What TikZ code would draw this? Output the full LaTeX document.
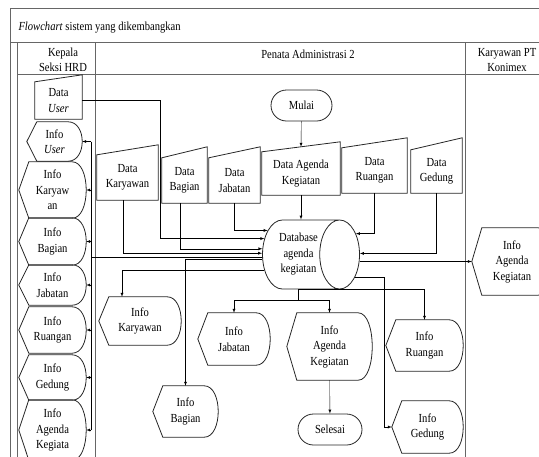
\documentclass[tikz,border=0pt]{standalone}
\usepackage{fontspec}
\setmainfont{Liberation Serif}[FakeStretch=0.86]
\usetikzlibrary{shapes.geometric,shapes.misc}

\begin{document}
\begin{tikzpicture}[x=1pt, y=-1pt, >=latex, font=\fontsize{12.3}{15.5}\selectfont]
\tikzset{garis/.style={draw=black!85, line width=0.8pt},
  tepi/.style={draw=black!60, line width=1pt},
  masukan/.style={align=center, inner sep=1pt,
    append after command={\pgfextra{\let\simpul\tikzlastnode
      \draw[garis] (\simpul.south west) -- (\simpul.north west)
        -- ([yshift=#1]\simpul.north east) -- (\simpul.south east) -- cycle;}}},
  masukan/.default=10pt,
  tampilan/.style={align=center, inner sep=1pt,
    append after command={\pgfextra{\let\simpul\tikzlastnode
      \draw[garis] (\simpul.west) -- ([xshift=10pt]\simpul.north west)
        -- ([xshift=-14pt]\simpul.north east)
        .. controls ([xshift=4.7pt]\simpul.north east) and ([xshift=4.7pt]\simpul.south east)
        .. ([xshift=-14pt]\simpul.south east)
        -- ([xshift=10pt]\simpul.south west) -- cycle;}}},
  terminal/.style={garis, rounded rectangle, inner sep=1pt},
  basisdata/.style={garis, cylinder, shape border rotate=0, aspect=0.9, align=center, inner sep=1pt}}
\useasboundingbox (0,0) rectangle (539,456);
\clip (0,0) rectangle (539,456);
% kerangka swimlane
\draw[tepi] (10,470) -- (10,8) -- (545,8);
\draw[tepi] (10,42) -- (545,42);
\draw[tepi] (17,42) -- (17,470);
\draw[tepi] (17,74) -- (545,74);
\draw[tepi] (95,42) -- (95,470);
\draw[tepi] (465,42) -- (465,470);
\node[anchor=west] (judul) at (15,28) {\textit{Flowchart} sistem yang dikembangkan};
\node[align=center] (hKepala) at (63,60) {Kepala\\Seksi HRD};
\node (hPenata) at (308,54) {Penata Administrasi 2};
\node[align=center] (hKaryawan) at (507,60) {Karyawan PT\\Konimex};
% Kepala Seksi HRD
\node[masukan=7pt, minimum width=47pt, minimum height=37pt] (dUser) at (58.5,100.5) {Data\\\textit{User}};
\node[tampilan, minimum width=55pt, minimum height=39pt] (iUser) at (54.5,141.5) {Info\\\textit{User}};
\node[tampilan, minimum width=67pt, minimum height=56pt] (iKaryawan) at (52.5,190) {Info\\Karyaw\\an};
\node[tampilan, minimum width=67pt, minimum height=47pt] (iBagian) at (52.5,241.5) {Info\\Bagian};
\node[tampilan, minimum width=67pt, minimum height=40pt] (iJabatan) at (52.5,285) {Info\\Jabatan};
\node[tampilan, minimum width=67pt, minimum height=46pt] (iRuangan) at (52.5,330) {Info\\Ruangan};
\node[tampilan, minimum width=67pt, minimum height=45pt] (iGedung) at (52.5,377.5) {Info\\Gedung};
\node[tampilan, minimum width=67pt, minimum height=60pt] (iAgenda) at (52.5,430) {Info\\Agenda\\Kegiata};
% Penata Administrasi 2
\node[terminal, minimum width=63pt, minimum height=31pt] (mulai) at (301.5,105.5) {Mulai};
\node[masukan, minimum width=61pt, minimum height=45pt] (dKaryawan) at (127.5,177.5) {Data\\Karyawan};
\node[masukan=11pt, minimum width=45pt, minimum height=45pt] (dBagian) at (184.5,180.5) {Data\\Bagian};
\node[masukan=11pt, minimum width=51pt, minimum height=45pt] (dJabatan) at (234.5,180.5) {Data\\Jabatan};
\node[masukan, minimum width=78pt, minimum height=43pt] (dAgenda) at (301,173.5) {Data Agenda\\Kegiatan};
\node[masukan, minimum width=65pt, minimum height=45pt] (dRuangan) at (374.5,170.5) {Data\\Ruangan};
\node[masukan=12pt, minimum width=51pt, minimum height=43pt] (dGedung) at (436.5,171.5) {Data\\Gedung};
\node[basisdata, minimum width=69pt, minimum height=97pt] (basis) at (298.5,254.5) {Database\\agenda\\kegiatan};
\node[tampilan, minimum width=82pt, minimum height=48pt] (iKaryawan2) at (140,321) {Info\\Karyawan};
\node[tampilan, minimum width=65pt, minimum height=51pt] (iBagian2) at (185.5,411.5) {Info\\Bagian};
\node[tampilan, minimum width=72pt, minimum height=52pt] (iJabatan2) at (234,339) {Info\\Jabatan};
\node[tampilan, minimum width=85pt, minimum height=67pt] (iAgenda2) at (329.5,346.5) {Info\\Agenda\\Kegiatan};
\node[tampilan, minimum width=77pt, minimum height=51pt] (iRuangan2) at (424.5,345.5) {Info\\Ruangan};
\node[tampilan, minimum width=71pt, minimum height=52pt] (iGedung2) at (427.5,427) {Info\\Gedung};
\node[terminal, minimum width=66pt, minimum height=31pt] (selesai) at (330,429.5) {Selesai};
% Karyawan PT Konimex
\node[tampilan, minimum width=80pt, minimum height=67pt] (iAgendaK) at (512,261.5) {Info\\Agenda\\Kegiatan};
\coordinate (belokUser) at (160,0);
\coordinate (trunk) at (91,258);
\coordinate (belokGedung) at (384,0);
\coordinate (cabang) at ([yshift=-11pt]basis.south);
% alur masuk
\draw[->] (mulai) -- ([yshift=5pt]dAgenda.north);
\draw[->] (dAgenda.south) -- (dAgenda.south |- basis.north);
\draw[->] (dJabatan.south) |- (basis.142);
\draw[->] (dUser.east) -| (belokUser |- basis.155) -- (basis.155);
\draw[->] ([xshift=-4pt]dBagian.south) |- (basis.171);
\draw[->] ([xshift=-4pt]dKaryawan.south) |- (basis.178);
\draw[->] (dRuangan.south) |- (basis.20);
\draw[->] (dGedung.south) |- (basis.1);
% alur keluar
\draw (basis.184) -- (basis.184 -| trunk);
\draw (trunk |- iUser.east) -- (trunk |- iAgenda.east);
\draw[->] (trunk |- iUser.east) -- (iUser.east);
\draw[->] (trunk |- iKaryawan.east) -- (iKaryawan.east);
\draw[->] (trunk |- iBagian.east) -- (iBagian.east);
\draw[->] (trunk |- iJabatan.east) -- (iJabatan.east);
\draw[->] (trunk |- iRuangan.east) -- (iRuangan.east);
\draw[->] (trunk |- iGedung.east) -- (iGedung.east);
\draw[->] (trunk |- iAgenda.east) -- (iAgenda.east);
\draw[->] (basis.188) -| (iBagian2.north);
\draw[->] (basis.204) -| ([xshift=-18pt]iKaryawan2.north);
\draw[->] (basis.east |- iAgendaK.west) -- (iAgendaK.west);
\draw[->] (basis.338) -| (belokGedung |- iGedung2.west) -- (iGedung2.west);
\draw[->] (basis.south) -| (iRuangan2.north);
\draw (basis.south) -- (cabang);
\draw[->] (cabang) -| (iJabatan2.north);
\draw[->] (cabang) -| (iAgenda2.north);
\draw[->] (iAgenda2) -- (selesai);
\end{tikzpicture}
\end{document}
